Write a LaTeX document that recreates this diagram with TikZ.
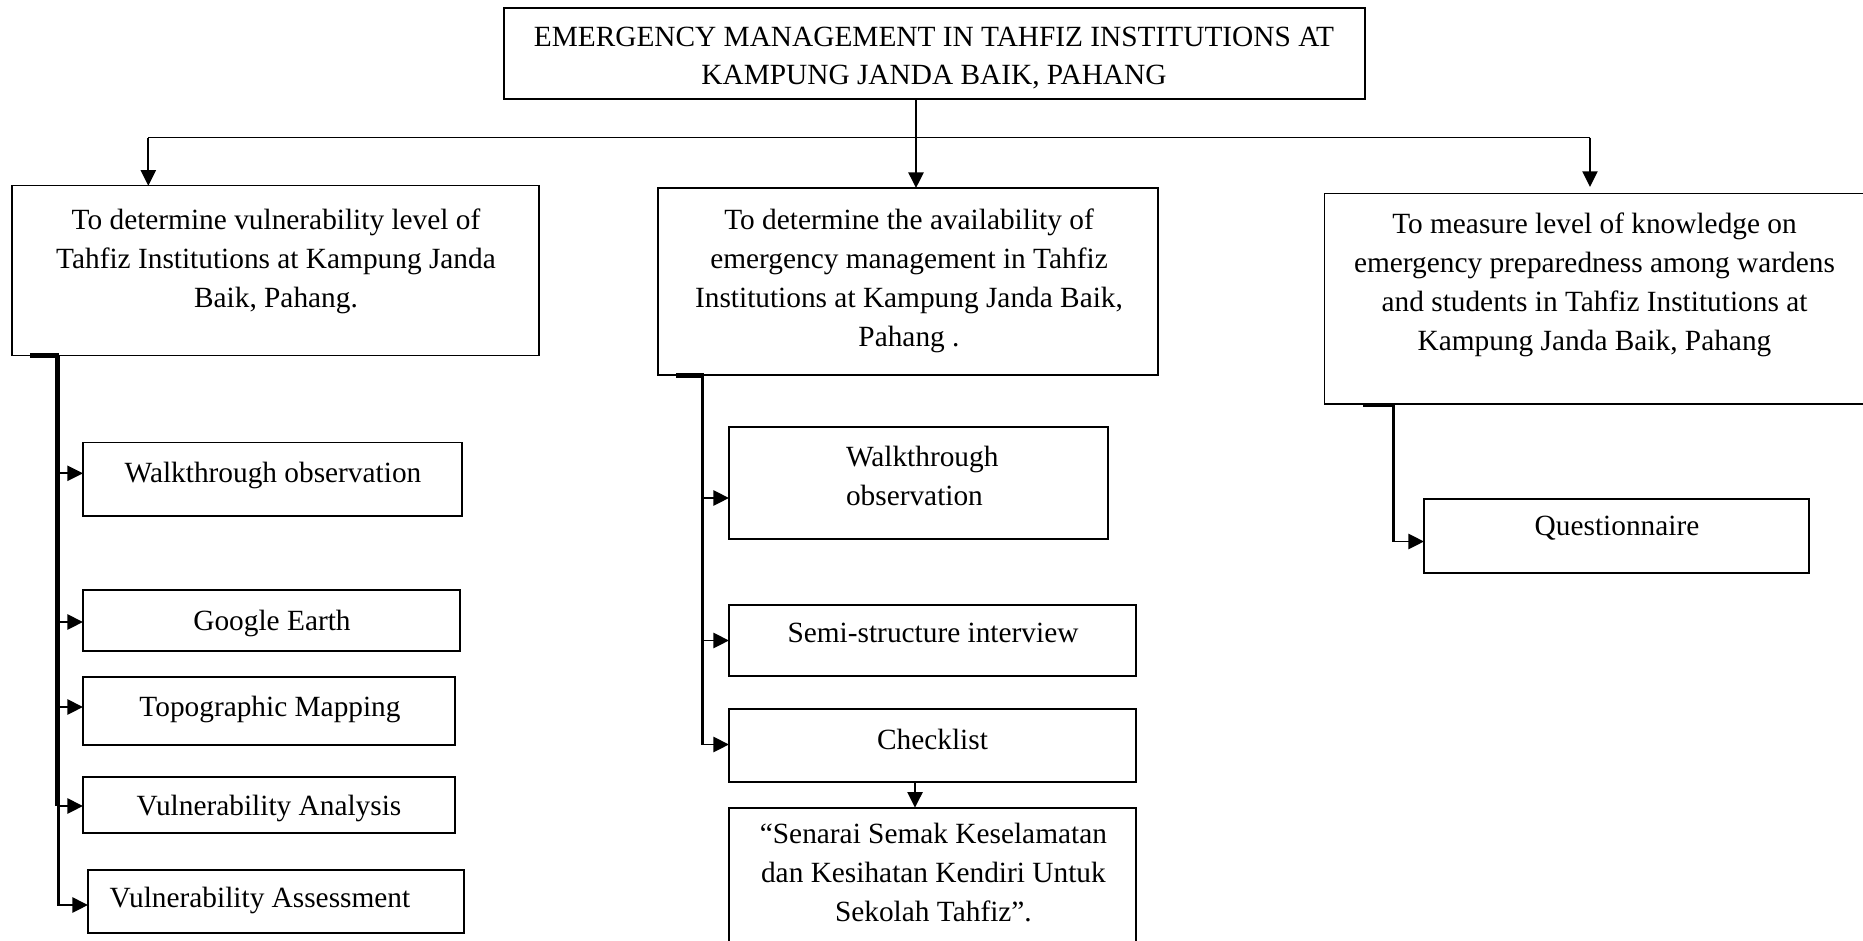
\documentclass[tikz,border=0pt]{standalone}
\usepackage{fontspec}
\setmainfont{Liberation Serif}
\usetikzlibrary{arrows.meta,calc}
\begin{document}
\begin{tikzpicture}[x=0.5pt,y=-0.5pt,
  box/.style={draw, line width=0.8pt, inner sep=0pt, outer sep=0pt},
  txt/.style={anchor=north, inner sep=0pt, outer sep=0pt, align=center,
              font=\fontsize{14.67}{19.5}\selectfont},
  busline/.style={line width=0.65pt},
  arr/.style={line width=0.85pt, -{Triangle[length=7.8pt,width=7.6pt]}},
  spinethick/.style={line width=2.75pt},
  spine/.style={line width=1.35pt},
  joint/.style={line width=2.5pt},
]
\useasboundingbox (0,0) rectangle (1863,941);

% ---------- title ----------
\node[box, line width=0.9pt, minimum width=430.5pt, minimum height=45.2pt] (title) at (934.5,53.5) {};
\node[txt, font=\fontsize{14.67}{19.15}\selectfont] (titletext) at (934,27)
  {EMERGENCY MANAGEMENT IN TAHFIZ INSTITUTIONS AT\\KAMPUNG JANDA BAIK, PAHANG};

% ---------- objectives ----------
\node[box, minimum width=263.5pt, minimum height=84.9pt] (obj1) at (275.5,270.6) {};
\node[txt] (obj1text) at (276,208.5)
  {To determine vulnerability level of\\Tahfiz Institutions at Kampung Janda\\Baik, Pahang.};

\node[box, minimum width=250pt, minimum height=93.5pt] (obj2) at (908,281.5) {};
\node[txt] (obj2text) at (909,208.5)
  {To determine the availability of\\emergency management in Tahfiz\\Institutions at Kampung Janda Baik,\\Pahang .};

\node[box, minimum width=269.8pt, minimum height=105.25pt] (obj3) at (1594.2,298.75) {};
\node[txt] (obj3text) at (1594.5,213)
  {To measure level of knowledge on\\emergency preparedness among wardens\\and students in Tahfiz Institutions at\\Kampung Janda Baik, Pahang};

% ---------- methods, objective 1 ----------
\node[box, minimum width=189.5pt, minimum height=36.65pt] (l1) at (272.5,479.3) {};
\node[txt] (l1text) at (273,461.7) {Walkthrough observation};
\node[box, minimum width=188.5pt, minimum height=30.5pt] (l2) at (271.5,620.5) {};
\node[txt] (l2text) at (272,610) {Google Earth};
\node[box, minimum width=186pt, minimum height=34pt] (l3) at (269,711) {};
\node[txt] (l3text) at (270,695.7) {Topographic Mapping};
\node[box, minimum width=186pt, minimum height=28pt] (l4) at (269,805) {};
\node[txt] (l4text) at (269,795.5) {Vulnerability Analysis};
\node[box, minimum width=188pt, minimum height=31.5pt] (l5) at (276,901.5) {};
\node[txt] (l5text) at (260,887) {Vulnerability Assessment};

% ---------- methods, objective 2 ----------
\node[box, minimum width=189.5pt, minimum height=56pt] (m1) at (918.5,483) {};
\node[txt, anchor=north west, align=left] (m1text) at (846,446) {Walkthrough\\observation};
\node[box, minimum width=203.5pt, minimum height=35.5pt] (m2) at (932.5,640.5) {};
\node[txt] (m2text) at (933,623) {Semi-structure interview};
\node[box, minimum width=203.5pt, minimum height=36.5pt] (m3) at (932.5,745.5) {};
\node[txt] (m3text) at (932.5,729) {Checklist};
\node[box, minimum width=203.5pt, minimum height=71.15pt] (m4) at (932.5,878.85) {};
\node[txt] (m4text) at (933.4,823)
  {``Senarai Semak Keselamatan\\dan Kesihatan Kendiri Untuk\\Sekolah Tahfiz''.};

% ---------- method, objective 3 ----------
\node[box, minimum width=192.5pt, minimum height=37pt] (q) at (1616.5,536) {};
\node[txt] (qtext) at (1617,516) {Questionnaire};

% ---------- title to objectives ----------
\coordinate (bus) at (916,137.7);
\coordinate (busL) at (148.3,137.7);
\coordinate (busR) at (1590,137.7);
\draw[busline] (title.south -| bus) -- (bus);
\draw[busline] (busL) -- (busR);
\draw[arr] (busL) -- (busL |- obj1.north);
\draw[arr] (bus) -- (bus |- obj2.north);
\draw[arr, shorten >=3.3pt] (busR) -- (busR |- obj3.north);

% ---------- objective 1 spine ----------
\coordinate (s1) at ($(obj1.south west)+(45.3,0)$);
\draw[joint] ($(s1)+(-27,0)$) -- ($(s1)+(2,0)$);
\draw[spinethick] (s1) -- ($(s1 |- l4.west)+(0,1)$);
\draw[line width=1.5pt] ($(s1 |- l4.west)+(0.7,0)$) -- ($(s1 |- l5.west)+(0.7,4.3)$);
\draw[arr] ($(s1 |- l1.west)+(0,-6)$) -- ($(l1.west)+(0,-6)$);
\draw[arr] ($(s1 |- l2.west)+(0,1.5)$) -- ($(l2.west)+(0,1.5)$);
\draw[arr] ($(s1 |- l3.west)+(0,-4)$) -- ($(l3.west)+(0,-4)$);
\draw[arr] ($(s1 |- l4.west)+(0,1)$) -- ($(l4.west)+(0,1)$);
\draw[arr] ($(s1 |- l5.west)+(0.7,3.5)$) -- ($(l5.west)+(0,3.5)$);

% ---------- objective 2 spine ----------
\coordinate (s2) at ($(obj2.south west)+(44.7,0)$);
\draw[joint] ($(s2)+(-26.7,0)$) -- ($(s2)+(1.3,0)$);
\draw[spine] (s2) -- ($(s2 |- m3.west)+(0,-0.3)$);
\draw[arr] ($(s2 |- m1.west)+(0,15)$) -- ($(m1.west)+(0,15)$);
\draw[arr] (s2 |- m2.west) -- (m2.west);
\draw[arr] ($(s2 |- m3.west)+(0,-1)$) -- ($(m3.west)+(0,-1)$);
\draw[arr] ($(m3.south)+(-17.5,0)$) -- ($(m4.north)+(-17.5,0)$);

% ---------- objective 3 spine ----------
\coordinate (s3) at ($(obj3.south west)+(69,0)$);
\draw[line width=1.8pt] ($(s3)+(-30,0.8)$) -- ($(s3)+(1,0.8)$);
\draw[line width=1.25pt] (s3) -- ($(s3 |- q.west)+(0,6.1)$);
\draw[arr] ($(s3 |- q.west)+(0,5.5)$) -- ($(q.west)+(0,5.5)$);
\end{tikzpicture}
\end{document}
